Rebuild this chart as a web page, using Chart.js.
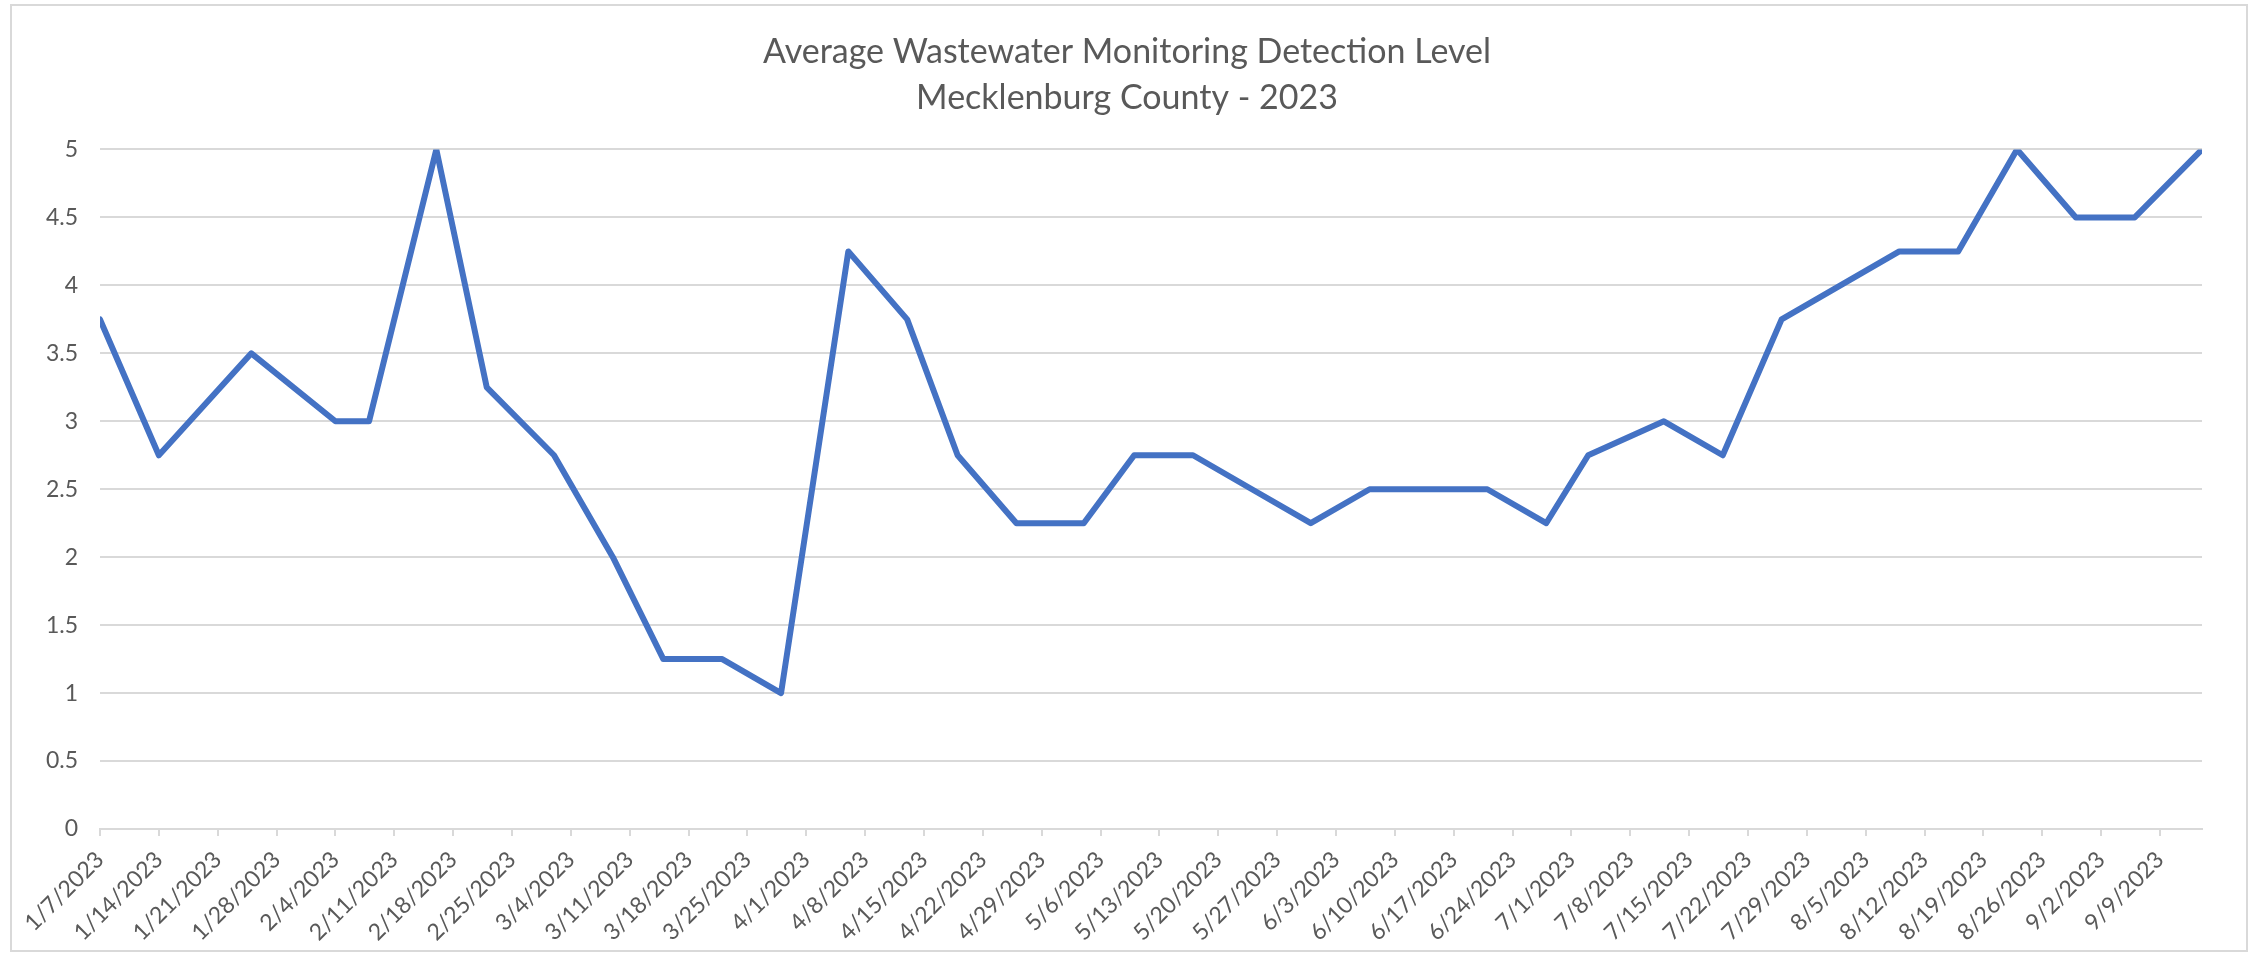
<!DOCTYPE html>
<html>
<head>
<meta charset="utf-8">
<title>Average Wastewater Monitoring Detection Level</title>
<script src="https://cdn.jsdelivr.net/npm/chart.js@4.4.1/dist/chart.umd.min.js"></script>
<style>
  html, body { margin: 0; padding: 0; background: #fff; }
  canvas { display: block; }
</style>
</head>
<body>
<canvas id="level" width="2254" height="953"></canvas>
<script>
// sample dates and averaged detection levels
const sampleDates = ['1/7/2023', '1/14/2023', '1/25/2023', '2/4/2023', '2/8/2023', '2/16/2023', '2/22/2023',
  '3/2/2023', '3/9/2023', '3/15/2023', '3/22/2023', '3/29/2023', '4/6/2023', '4/13/2023', '4/19/2023',
  '4/26/2023', '5/4/2023', '5/10/2023', '5/17/2023', '5/24/2023', '5/31/2023', '6/7/2023', '6/14/2023',
  '6/21/2023', '6/28/2023', '7/3/2023', '7/12/2023', '7/19/2023', '7/26/2023', '8/2/2023', '8/9/2023',
  '8/16/2023', '8/23/2023', '8/30/2023', '9/6/2023', '9/14/2023'];
const levels = [3.75, 2.75, 3.5, 3, 3, 5, 3.25,
  2.75, 2, 1.25, 1.25, 1, 4.25, 3.75, 2.75,
  2.25, 2.25, 2.75, 2.75, 2.5, 2.25, 2.5, 2.5,
  2.5, 2.25, 2.75, 3, 2.75, 3.75, 4, 4.25,
  4.25, 5, 4.5, 4.5, 5];

// weekly axis labels
const tickLabels = ['1/7/2023', '1/14/2023', '1/21/2023', '1/28/2023', '2/4/2023', '2/11/2023', '2/18/2023',
  '2/25/2023', '3/4/2023', '3/11/2023', '3/18/2023', '3/25/2023', '4/1/2023', '4/8/2023', '4/15/2023',
  '4/22/2023', '4/29/2023', '5/6/2023', '5/13/2023', '5/20/2023', '5/27/2023', '6/3/2023', '6/10/2023',
  '6/17/2023', '6/24/2023', '7/1/2023', '7/8/2023', '7/15/2023', '7/22/2023', '7/29/2023', '8/5/2023',
  '8/12/2023', '8/19/2023', '8/26/2023', '9/2/2023', '9/9/2023'];

const titleLines = ['Average Wastewater Monitoring Detection Level', 'Mecklenburg County - 2023'];

function dayNum(s) {
  var p = s.split('/');
  return Date.UTC(+p[2], +p[0] - 1, +p[1]) / 86400000;
}
const day0 = dayNum(tickLabels[0]);
const points = sampleDates.map(function(d, i) {
  return { x: dayNum(d) - day0, y: levels[i] };
});
const lastDay = points[points.length - 1].x;

const textColor = '#595959';
const gridColor = '#d9d9d9';
const fontFamily = "Lato, 'Open Sans', sans-serif";

const frame = {
  id: 'frame',
  beforeDraw(chart) {
    const c = chart.ctx;
    c.save();
    c.fillStyle = '#fff';
    c.fillRect(0, 0, chart.width, chart.height);
    c.strokeStyle = gridColor;
    c.lineWidth = 2;
    c.strokeRect(11, 5, 2236, 946);
    c.restore();
  }
};

var ctx = document.getElementById('level').getContext('2d');
var myChart = new Chart(ctx, {
  type: 'line',
  data: {
    datasets: [{
      label: 'Detection Level',
      data: points,
      borderColor: '#4472C4',
      backgroundColor: 'transparent',
      borderWidth: 6,
      pointRadius: 0,
      borderJoinStyle: 'round',
      borderCapStyle: 'round',
      tension: 0
    }]
  },
  options: {
    responsive: false,
    animation: false,
    layout: { padding: 0 },
    plugins: {
      legend: { display: false },
      tooltip: { enabled: false },
      title: {
        display: true,
        text: titleLines,
        color: textColor,
        font: { family: fontFamily, size: 34, weight: 'normal', lineHeight: 1.36 },
        padding: { top: 29, bottom: 28 }
      }
    },
    scales: {
      x: {
        type: 'linear',
        min: 0,
        max: lastDay,
        afterBuildTicks: function(scale) {
          scale.ticks = tickLabels.map(function(t, i) { return { value: i * 7 }; });
        },
        afterFit: function(scale) { scale.height = 124; },
        ticks: {
          autoSkip: false,
          maxRotation: 45,
          minRotation: 45,
          padding: 10,
          color: textColor,
          font: { family: fontFamily, size: 23 },
          callback: function(v) { return tickLabels[Math.round(v / 7)]; }
        },
        grid: {
          drawOnChartArea: false,
          drawTicks: true,
          tickLength: 7,
          tickColor: gridColor,
          lineWidth: 2
        },
        border: { display: true, color: gridColor, width: 2 }
      },
      y: {
        min: 0,
        max: 5,
        afterFit: function(scale) { scale.width = 100; },
        ticks: {
          stepSize: 0.5,
          padding: 22,
          color: textColor,
          font: { family: fontFamily, size: 23 },
          callback: function(v) { return String(+v.toFixed(2)); }
        },
        grid: { color: gridColor, lineWidth: 2, drawTicks: false },
        border: { display: false }
      },
      // empty right-hand margin so the plot ends where the reference does
      spacer: {
        position: 'right',
        min: 0,
        max: 5,
        afterFit: function(scale) { scale.width = 52; },
        ticks: { display: false },
        grid: { display: false, drawTicks: false },
        border: { display: false }
      }
    }
  },
  plugins: [frame]
});
</script>
</body>
</html>
